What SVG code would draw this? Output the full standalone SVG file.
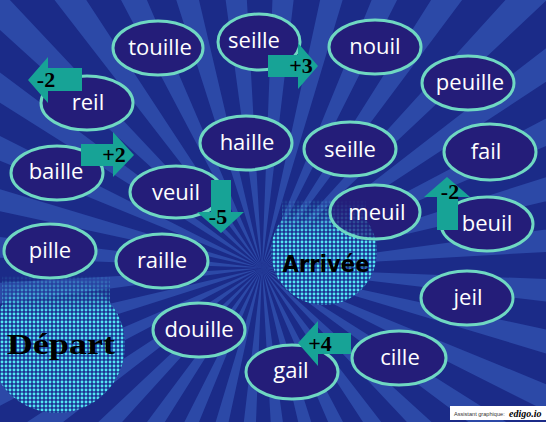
<svg xmlns="http://www.w3.org/2000/svg" xmlns:xlink="http://www.w3.org/1999/xlink" width="546" height="422" viewBox="0 0 546 422">
<style>
.node ellipse{fill:#241d79;stroke:#6fd8c2;stroke-width:3}
.node text{font-family:"Open Sans","Noto Sans",sans-serif;font-size:22px;fill:#ffffff;text-anchor:middle}
.arrow{fill:#17a396}
.lbl{font-family:"Liberation Serif","DejaVu Serif",serif;font-weight:bold;font-size:22px;fill:#000;text-anchor:middle}
</style>
<defs>
<pattern id="dots" width="4" height="4" patternUnits="userSpaceOnUse">
<rect width="4" height="4" fill="#1b3394"/>
<circle cx="2" cy="2" r="1.45" fill="#52e6f2"/>
</pattern>
<linearGradient id="gDep" gradientUnits="userSpaceOnUse" x1="0" y1="274" x2="0" y2="314">
<stop offset="0" stop-color="#000"/><stop offset="0.25" stop-color="#555"/><stop offset="1" stop-color="#fff"/>
</linearGradient>
<linearGradient id="gArr" gradientUnits="userSpaceOnUse" x1="0" y1="198" x2="0" y2="236">
<stop offset="0" stop-color="#000"/><stop offset="0.25" stop-color="#555"/><stop offset="1" stop-color="#fff"/>
</linearGradient>
<mask id="mDep"><rect x="0" y="260" width="150" height="170" fill="url(#gDep)"/></mask>
<mask id="mArr"><rect x="260" y="190" width="130" height="120" fill="url(#gArr)"/></mask>
<clipPath id="cMeuil"><ellipse cx="375" cy="212" rx="44" ry="26"/></clipPath>
</defs>

<g id="background">
<rect width="546" height="422" fill="#1b2b88"/>
<circle cx="262" cy="268" r="360" fill="none" stroke="#2c49a7" stroke-width="720" pathLength="360" stroke-dasharray="4.5 5.5" stroke-dashoffset="-2.25"/>
</g>

<g id="depart">
<g mask="url(#mDep)">
<rect x="2" y="276" width="108" height="30" fill="url(#dots)" opacity="0.7"/>
<circle cx="57" cy="345" r="68" fill="url(#dots)"/>
</g>
<text x="61" y="354" font-family="Liberation Serif, DejaVu Serif, serif" font-weight="bold" font-size="30" textLength="108" lengthAdjust="spacingAndGlyphs" text-anchor="middle" fill="#000">Départ</text>
</g>

<g id="arrivee">
<g id="arrDots" mask="url(#mArr)">
<rect x="282" y="200" width="84" height="26" fill="url(#dots)" opacity="0.7"/>
<circle cx="324" cy="252" r="53" fill="url(#dots)"/>
</g>
<text x="326" y="272" font-family="DejaVu Sans, Liberation Sans, sans-serif" font-weight="bold" font-size="23" textLength="87" lengthAdjust="spacingAndGlyphs" text-anchor="middle" fill="#000">Arrivée</text>
</g>

<g id="n-touille" class="node"><ellipse cx="158" cy="48" rx="45" ry="27"/><text x="160" y="55">touille</text></g>
<g id="n-seille1" class="node"><ellipse cx="259" cy="42" rx="41" ry="28"/><text x="254" y="48">seille</text></g>
<g id="n-nouil" class="node"><ellipse cx="375" cy="47" rx="46" ry="27"/><text x="375" y="54">nouil</text></g>
<g id="n-peuille" class="node"><ellipse cx="468" cy="83" rx="46" ry="27"/><text x="470" y="90">peuille</text></g>
<g id="n-reil" class="node"><ellipse cx="87" cy="103" rx="46" ry="27"/><text x="88" y="110">reil</text></g>
<g id="n-haille" class="node"><ellipse cx="246" cy="143" rx="46" ry="27"/><text x="247" y="150">haille</text></g>
<g id="n-seille2" class="node"><ellipse cx="350" cy="149" rx="46" ry="27"/><text x="350" y="157">seille</text></g>
<g id="n-fail" class="node"><ellipse cx="490" cy="152" rx="46" ry="28"/><text x="486" y="159">fail</text></g>
<g id="n-baille" class="node"><ellipse cx="57" cy="173" rx="46" ry="27"/><text x="56" y="179">baille</text></g>
<g id="n-veuil" class="node"><ellipse cx="176" cy="192" rx="46" ry="26"/><text x="176" y="200">veuil</text></g>
<g id="n-meuil" class="node"><ellipse cx="375" cy="212" rx="45" ry="27"/><g clip-path="url(#cMeuil)" opacity="0.35"><use xlink:href="#arrDots"/></g><text x="377" y="220">meuil</text></g>
<g id="n-beuil" class="node"><ellipse cx="487" cy="224" rx="46" ry="27"/><text x="487" y="231">beuil</text></g>
<g id="n-pille" class="node"><ellipse cx="50" cy="251" rx="46" ry="27"/><text x="50" y="258">pille</text></g>
<g id="n-raille" class="node"><ellipse cx="162" cy="261" rx="46" ry="27"/><text x="162" y="268">raille</text></g>
<g id="n-douille" class="node"><ellipse cx="199" cy="330" rx="46" ry="27"/><text x="199" y="337">douille</text></g>
<g id="n-jeil" class="node"><ellipse cx="467" cy="298" rx="46" ry="27"/><text x="468" y="305">jeil</text></g>
<g id="n-cille" class="node"><ellipse cx="399" cy="358" rx="47" ry="27"/><text x="400" y="365">cille</text></g>
<g id="n-gail" class="node"><ellipse cx="292" cy="372" rx="46" ry="27"/><text x="291" y="378">gail</text></g>

<g id="connectors">
<polygon class="arrow" points="28,80 48,57 48,68 82,68 82,91 48,91 48,103"/>
<polygon class="arrow" points="81,144 113,144 113,132 134,155 113,177 113,166 81,166"/>
<polygon class="arrow" points="268,55 298,55 298,43 318,66 298,89 298,77 268,77"/>
<polygon class="arrow" points="211,180 231,180 231,212 244,212 221,233 197,212 211,212"/>
<polygon class="arrow" points="437,230 437,197 424,197 447,177 470,197 458,197 458,230"/>
<polygon class="arrow" points="298,343 318,321 318,333 351,333 351,354 318,354 318,366"/>
<text class="lbl" x="46" y="87">-2</text>
<text class="lbl" x="114" y="162">+2</text>
<text class="lbl" x="301" y="73">+3</text>
<text class="lbl" x="218" y="224">-5</text>
<text class="lbl" x="450" y="199">-2</text>
<text class="lbl" x="320" y="351">+4</text>
</g>

<g id="watermark">
<rect x="450" y="406" width="96" height="14" fill="#ffffff"/>
<text x="454" y="416" font-family="Liberation Sans, sans-serif" font-size="5.6" fill="#333">Assistant graphique:</text>
<text x="509" y="417" font-family="Liberation Serif, serif" font-style="italic" font-weight="bold" font-size="10" fill="#000">edigo.io</text>
</g>
</svg>
